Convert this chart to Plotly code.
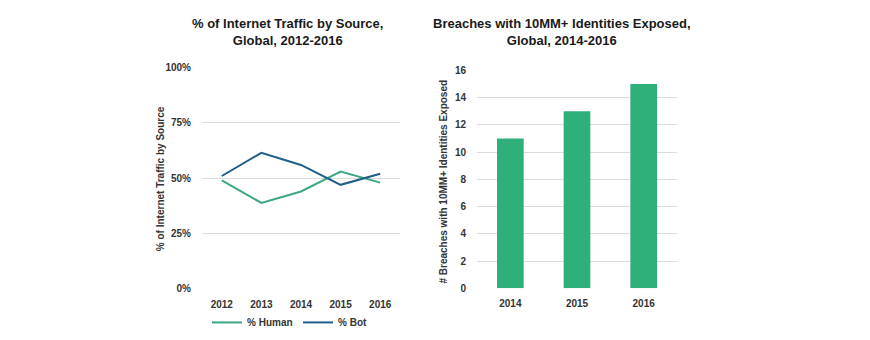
import plotly.graph_objects as go

years_traffic = ["2012", "2013", "2014", "2015", "2016"]
human_pct = [49, 38.8, 44, 53, 48]
bot_pct = [51, 61.5, 56, 47, 52]

years_breach = ["2014", "2015", "2016"]
breaches = [11, 13, 15]

FONT = "Liberation Sans, Arial, sans-serif"
GREEN_LINE = "#3aa882"
BLUE_LINE = "#1d5f8a"
BAR = "#2fb07a"
GRID = "#dcdcdc"
TXT = "#333333"

fig = go.Figure()
fig.add_trace(go.Scatter(x=years_traffic, y=human_pct, mode="lines", name="<b>% Human</b>",
                         line=dict(color=GREEN_LINE, width=2), xaxis="x", yaxis="y"))
fig.add_trace(go.Scatter(x=years_traffic, y=bot_pct, mode="lines", name="<b>% Bot</b>",
                         line=dict(color=BLUE_LINE, width=2), xaxis="x", yaxis="y"))
fig.add_trace(go.Bar(x=years_breach, y=breaches, marker=dict(color=BAR, line=dict(width=0)),
                     width=0.4, showlegend=False, xaxis="x2", yaxis="y2"))

tickfont = dict(family=FONT, size=10, color=TXT)
hide = "rgba(0,0,0,0)"

fig.update_layout(
    width=870, height=340,
    margin=dict(l=0, r=0, t=0, b=0),
    paper_bgcolor="white", plot_bgcolor="white",
    font=dict(family=FONT, color=TXT),
    xaxis=dict(domain=[202/870, 400/870], anchor="y", range=[-0.5, 4.5], showgrid=False,
               showline=False, zeroline=False, tickfont=tickfont, ticks="outside", ticklen=6,
               tickcolor=hide, tickprefix="<b>", ticksuffix="</b>"),
    yaxis=dict(domain=[47/340, 276/340], anchor="x", range=[0, 100], dtick=25,
               tickprefix="<b>", ticksuffix="%</b>", showgrid=True, gridcolor=GRID, gridwidth=1,
               zeroline=False, showline=False, tickfont=tickfont, ticks="outside", ticklen=8,
               tickcolor=hide),
    xaxis2=dict(domain=[477/870, 677/870], anchor="y2", range=[-0.5, 2.5], showgrid=False,
                showline=False, zeroline=False, tickfont=tickfont, ticks="outside", ticklen=6,
                tickcolor=hide, tickprefix="<b>", ticksuffix="</b>"),
    yaxis2=dict(domain=[47.3/340, 273.3/340], anchor="x2", range=[0, 16], dtick=2,
                tickprefix="<b>", ticksuffix="</b>",
                showgrid=True, gridcolor=GRID, gridwidth=1, zeroline=False, showline=False,
                tickfont=tickfont, ticks="outside", ticklen=8, tickcolor=hide),
    showlegend=True,
    legend=dict(orientation="h", x=207/870, xanchor="left", y=(340-328)/340, yanchor="middle",
                font=dict(family=FONT, size=10, color=TXT), bgcolor="rgba(0,0,0,0)",
                itemwidth=30, entrywidth=46, entrywidthmode="pixels"),
)

title_font = dict(family=FONT, size=13, color="#1a1a1a")
fig.add_annotation(text="<b>% of Internet Traffic by Source,<br>Global, 2012-2016</b>",
                   x=287/870, y=(340-27)/340, xref="paper", yref="paper",
                   showarrow=False, font=title_font, xanchor="center", yanchor="middle")
fig.add_annotation(text="<b>Breaches with 10MM+ Identities Exposed,<br>Global, 2014-2016</b>",
                   x=562/870, y=(340-27)/340, xref="paper", yref="paper",
                   showarrow=False, font=title_font, xanchor="center", yanchor="middle")

axis_title_font = dict(family=FONT, size=10, color=TXT)
fig.add_annotation(text="<b>% of Internet Traffic by Source</b>", x=160/870, y=(340-179.5)/340,
                   xref="paper", yref="paper", showarrow=False, textangle=-90,
                   font=axis_title_font, xanchor="center", yanchor="middle")
fig.add_annotation(text="<b># Breaches with 10MM+ Identities Exposed</b>", x=444/870, y=(340-182)/340,
                   xref="paper", yref="paper", showarrow=False, textangle=-90,
                   font=axis_title_font, xanchor="center", yanchor="middle")

fig.write_html(
    "out.html",
    post_script=(
        "document.documentElement.style.margin='0';"
        "document.body.style.margin='0';document.body.style.padding='0';"
        "document.documentElement.style.overflow='hidden';document.body.style.overflow='hidden';"
        "var gd=document.getElementById('{plot_id}');"
        "gd.style.position='fixed';gd.style.top='0px';gd.style.left='0px';"
    ),
)
